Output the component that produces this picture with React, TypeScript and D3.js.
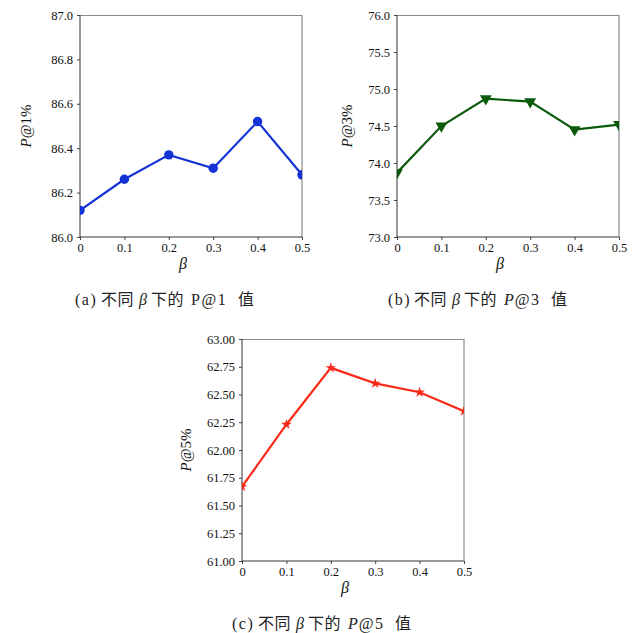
import React, { useEffect, useRef } from 'react'
import * as d3 from 'd3'

const betas = [0, 0.1, 0.2, 0.3, 0.4, 0.5]
const betaLabels = ['0', '0.1', '0.2', '0.3', '0.4', '0.5']

const p1Values = [86.12, 86.26, 86.37, 86.31, 86.52, 86.28]
const p3Values = [73.87, 74.5, 74.87, 74.83, 74.45, 74.52]
const p5Values = [61.67, 62.23, 62.74, 62.6, 62.52, 62.35]

const p1Ticks = [86.0, 86.2, 86.4, 86.6, 86.8, 87.0]
const p3Ticks = [73.0, 73.5, 74.0, 74.5, 75.0, 75.5, 76.0]
const p5Ticks = [61.0, 61.25, 61.5, 61.75, 62.0, 62.25, 62.5, 62.75, 63.0]

// caption pieces: text, kind; offsets are where each piece starts
const captionOffsets = [0, 26, 64, 76, 116, 163]

const panels = [
  {
    id: 'a', left: 80, top: 15, values: p1Values, ticks: p1Ticks, fmt: '.1f',
    color: '#1433d6', marker: 'circle', ylabel: '@1%', labelOffset: 54, capX: 75,
    caption: [['(a)', 'serif'], ['不同', 'cjk'], ['β', 'beta'], ['下的', 'cjk'], ['P@1', 'serif'], ['值', 'cjk']]
  },
  {
    id: 'b', left: 397, top: 15, values: p3Values, ticks: p3Ticks, fmt: '.1f',
    color: '#0b5a0b', marker: 'triangle', ylabel: '@3%', labelOffset: 50, capX: 388,
    caption: [['(b)', 'serif'], ['不同', 'cjk'], ['β', 'beta'], ['下的', 'cjk'], ['P', 'italic', '@3'], ['值', 'cjk']]
  },
  {
    id: 'c', left: 242, top: 339, values: p5Values, ticks: p5Ticks, fmt: '.2f',
    color: '#fa2a18', marker: 'star', ylabel: '@5%', labelOffset: 56, capX: 232,
    caption: [['(c)', 'serif'], ['不同', 'cjk'], ['β', 'beta'], ['下的', 'cjk'], ['P', 'italic', '@5'], ['值', 'cjk']]
  }
]

const SIZE = 222
const SERIF = '"Liberation Serif", "DejaVu Serif", serif'
const CJK = '"Noto Sans CJK SC", sans-serif'

function App() {
  const ref = useRef(null)

  useEffect(() => {
    const svg = d3.select(ref.current)
    svg.selectAll('*').remove()

    panels.forEach((p) => {
      const x = d3.scaleLinear().domain([0, 0.5]).range([0, SIZE])
      const y = d3.scaleLinear()
        .domain([p.ticks[0], p.ticks[p.ticks.length - 1]])
        .range([SIZE, 0])

      const g = svg.append('g').attr('transform', `translate(${p.left}, ${p.top})`)

      g.append('clipPath').attr('id', `clip-${p.id}`)
        .append('rect').attr('width', SIZE).attr('height', SIZE)

      const xAxis = d3.axisBottom(x).tickValues(betas)
        .tickFormat((d, i) => betaLabels[i]).tickSize(3).tickPadding(3)
      const yAxis = d3.axisLeft(y).tickValues(p.ticks)
        .tickFormat(d3.format(p.fmt)).tickSize(3).tickPadding(4)

      const xa = g.append('g').attr('transform', `translate(0, ${SIZE})`).call(xAxis)
      const ya = g.append('g').call(yAxis)
      ;[xa, ya].forEach((a) => {
        a.attr('font-family', SERIF).attr('font-size', 12.5)
        a.select('.domain').remove()
        a.selectAll('line').attr('stroke', '#444')
        a.selectAll('text').style('font-family', SERIF).style('font-size', '12.5px').attr('fill', '#111')
      })

      // frame
      g.append('line').attr('x1', 0).attr('x2', SIZE).attr('y1', 0.5).attr('y2', 0.5)
        .attr('stroke', '#8a8a8a').attr('stroke-width', 1.2)
      g.append('line').attr('x1', SIZE).attr('x2', SIZE).attr('y1', 0).attr('y2', SIZE)
        .attr('stroke', '#8a8a8a').attr('stroke-width', 1.2)
      g.append('line').attr('x1', 0).attr('x2', 0).attr('y1', 0).attr('y2', SIZE)
        .attr('stroke', '#333').attr('stroke-width', 1)
      g.append('line').attr('x1', 0).attr('x2', SIZE).attr('y1', SIZE).attr('y2', SIZE)
        .attr('stroke', '#333').attr('stroke-width', 1)

      const plot = g.append('g').attr('clip-path', `url(#clip-${p.id})`)
      const line = d3.line().x((d, i) => x(betas[i])).y((d) => y(d))
      plot.append('path').datum(p.values)
        .attr('d', line).attr('fill', 'none')
        .attr('stroke', p.color).attr('stroke-width', 2.2)

      let symbol = d3.symbol().type(d3.symbolCircle).size(70)
      if (p.marker === 'triangle') symbol = d3.symbol().type(d3.symbolTriangle).size(60)
      if (p.marker === 'star') symbol = d3.symbol().type(d3.symbolStar).size(35)

      plot.selectAll('.mark').data(p.values).enter()
        .append('path')
        .attr('d', symbol)
        .attr('transform', (d, i) =>
          `translate(${x(betas[i])}, ${y(d)})${p.marker === 'triangle' ? ' rotate(180)' : ''}`)
        .attr('fill', p.color)

      // y label
      const yl = g.append('text')
        .attr('transform', `translate(${-p.labelOffset + 5}, ${SIZE / 2}) rotate(-90)`)
        .attr('text-anchor', 'middle')
        .attr('font-family', SERIF).attr('font-size', 15).attr('fill', '#111')
      yl.append('tspan').attr('font-style', 'italic').text('P')
      yl.append('tspan').text(p.ylabel)

      // x label
      g.append('text')
        .attr('x', SIZE / 2 - 8).attr('y', SIZE + 32)
        .attr('text-anchor', 'middle')
        .attr('font-family', SERIF).attr('font-style', 'italic')
        .attr('font-size', 16).attr('fill', '#111')
        .text('β')

      // caption
      const capY = p.top + SIZE + 68
      p.caption.forEach(([t, kind, rest], i) => {
        const ts = svg.append('text')
          .attr('x', p.capX + captionOffsets[i]).attr('y', capY)
          .attr('fill', '#222').attr('font-size', 16)
        if (kind === 'cjk') {
          ts.attr('font-family', CJK).attr('font-size', 16).attr('letter-spacing', 0.5).text(t)
        } else if (kind === 'beta') {
          ts.attr('font-family', SERIF).attr('font-style', 'italic').text(t)
        } else if (kind === 'italic') {
          ts.attr('font-family', SERIF)
          ts.append('tspan').attr('font-style', 'italic').text(t)
          ts.append('tspan').attr('letter-spacing', 1.5).attr('dx', 1).text(rest)
        } else {
          ts.attr('font-family', SERIF).attr('letter-spacing', 1.5).text(t)
        }
      })
    })
  }, [])

  return (
    <div>
      <svg ref={ref} width={640} height={633}
        style={{ display: 'block', position: 'absolute', left: 0, top: 0, background: '#fff' }}></svg>
    </div>
  )
}

export default App
